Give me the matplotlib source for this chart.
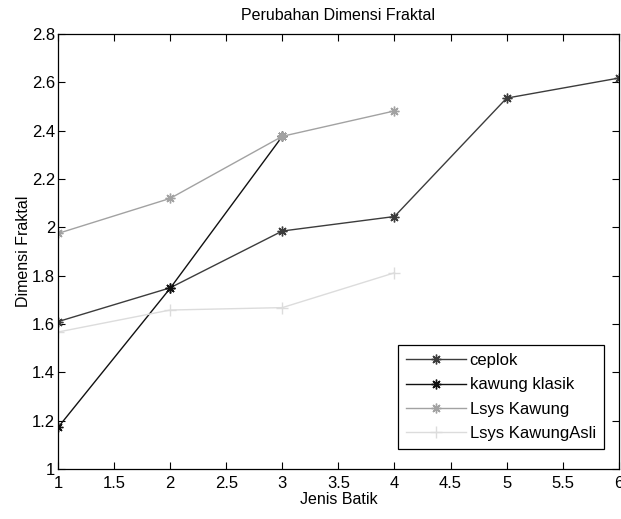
import matplotlib
matplotlib.use("Agg")
import matplotlib.pyplot as plt
from matplotlib.ticker import FuncFormatter

plt.rcParams["font.family"] = ["Liberation Sans", "DejaVu Sans"]

# data
x_ceplok = [1, 2, 3, 4, 5, 6]
ceplok = [1.61, 1.75, 1.985, 2.045, 2.535, 2.618]

x_klasik = [1, 2, 3]
kawung_klasik = [1.172, 1.748, 2.377]

x_lsys = [1, 2, 3, 4]
lsys_kawung = [1.975, 2.12, 2.377, 2.482]
lsys_kawung_asli = [1.567, 1.658, 1.668, 1.812]

labels = ["ceplok", "kawung klasik", "Lsys Kawung", "Lsys KawungAsli"]
xticks = [1, 1.5, 2, 2.5, 3, 3.5, 4, 4.5, 5, 5.5, 6]
yticks = [1, 1.2, 1.4, 1.6, 1.8, 2, 2.2, 2.4, 2.6, 2.8]


def main():
    fig = plt.figure(figsize=(6.21, 5.19), dpi=100)
    ax = fig.add_axes([0.0934, 0.0963, 0.903, 0.838])

    star = (8, 2, 0)
    ax.plot(x_ceplok, ceplok, color="#3c3c3c", marker=star, markersize=7,
            linewidth=1.0, label=labels[0])
    ax.plot(x_klasik, kawung_klasik, color="#111111", marker=star, markersize=7,
            linewidth=1.0, label=labels[1])
    ax.plot(x_lsys, lsys_kawung, color="#a2a2a2", marker=star, markersize=7,
            linewidth=1.0, label=labels[2])
    ax.plot(x_lsys, lsys_kawung_asli, color="#dcdcdc", marker="+", markersize=8,
            linewidth=1.0, label=labels[3])

    ax.set_xlim(1, 6)
    ax.set_ylim(1, 2.8)
    ax.set_xticks(xticks)
    ax.set_yticks(yticks)
    fmt = FuncFormatter(lambda v, p: "%g" % round(v, 2))
    ax.xaxis.set_major_formatter(fmt)
    ax.yaxis.set_major_formatter(fmt)
    ax.tick_params(direction="in", top=True, right=True, length=5,
                   width=0.8, labelsize=12, pad=2)
    ax.tick_params(axis="x", pad=5)
    for s in ax.spines.values():
        s.set_linewidth(0.9)

    ax.set_title("Perubahan Dimensi Fraktal", fontsize=11.5, pad=10.5)
    ax.set_xlabel("Jenis Batik", fontsize=11.5, labelpad=1)
    ax.set_ylabel("Dimensi Fraktal", fontsize=11.5, labelpad=1)

    leg = ax.legend(loc="lower right", bbox_to_anchor=(0.974, 0.046),
                    fontsize=12, frameon=True, fancybox=False,
                    edgecolor="black", framealpha=1, borderaxespad=0,
                    handlelength=3.6, labelspacing=0.55, handletextpad=0.2,
                    borderpad=0.5)
    leg.get_frame().set_linewidth(0.9)

    fig.savefig("out.png", dpi=100)


if __name__ == "__main__":
    main()
